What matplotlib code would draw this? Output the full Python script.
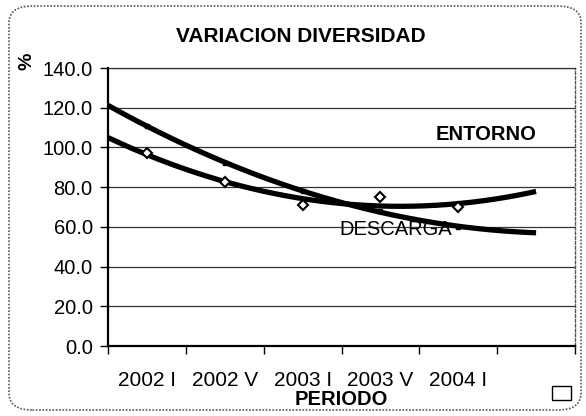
import numpy as np
import matplotlib
matplotlib.use("Agg")
import matplotlib.pyplot as plt
from matplotlib.patches import FancyBboxPatch, Rectangle

plt.rcParams['font.family'] = ['Liberation Sans', 'DejaVu Sans']

categories = ["2002 I", "2002 V", "2003 I", "2003 V", "2004 I", ""]
entorno = [97.0, 82.6, 71.0, 75.0, 70.0]
descarga = [111.0, 92.0, 78.0, 68.0, 60.0]
yticks = [0, 20, 40, 60, 80, 100, 120, 140]

fig = plt.figure(figsize=(5.86, 4.16), dpi=100)
ax = fig.add_axes([108/586, 1-346/416, (575-108)/586, (346-68)/416])

xs = np.arange(1, len(entorno) + 1)
xfit = np.linspace(0.5, 6.0, 300)
for vals in (entorno, descarga):
    coef = np.polyfit(xs, vals, 2)
    ax.plot(xfit - 1, np.polyval(coef, xfit), color='black', lw=3.8,
            solid_capstyle='butt', zorder=3)

ax.plot(xs - 1, descarga, linestyle='none', marker='s', ms=3.5,
        color='black', zorder=4)
ax.plot(xs - 1, entorno, linestyle='none', marker='D', ms=5,
        mfc='white', mec='black', mew=1.5, zorder=5)

ax.set_xlim(-0.5, len(categories) - 0.5)
ax.set_ylim(0, 140)
ax.set_yticks(yticks)
ax.set_yticklabels([f"{v:.1f}" for v in yticks], fontsize=14.5)
ax.grid(axis='y', color='#333333', lw=0.9)
ax.set_axisbelow(True)

ax.set_xticks(np.arange(len(categories)))
ax.set_xticklabels(categories, fontsize=15)
ax.tick_params(axis='x', length=0, pad=18)
ax.set_xticks(np.arange(-0.5, len(categories)), minor=True)
ax.tick_params(axis='x', which='minor', length=6, width=1, direction='out')
ax.tick_params(axis='y', length=6, width=1, direction='out', pad=5)

for s in ('left', 'bottom'):
    ax.spines[s].set_linewidth(1.6)
ax.spines['top'].set_linewidth(0.9)
ax.spines['top'].set_color('#333333')
ax.spines['right'].set_linestyle((0, (2, 1.5)))
ax.spines['right'].set_color('#555555')
ax.spines['right'].set_linewidth(1)

ax.set_xlabel("PERIODO", fontsize=14.5, fontweight='bold', labelpad=0)

fig.text(301/586, 1-37/416, "VARIACION DIVERSIDAD", ha='center', va='center',
         fontsize=15, fontweight='bold')
fig.text(27/586, 1-61/416, "%", rotation=90, ha='center', va='center',
         fontsize=14, fontweight='bold')
fig.text(486/586, 1-134/416, "ENTORNO", ha='center', va='center',
         fontsize=14.5, fontweight='bold')
fig.text(396/586, 1-229/416, "DESCARGA", ha='center', va='center',
         fontsize=14.5)

border = FancyBboxPatch((9/586, 6/416), (581-9)/586, (410-6)/416,
                        boxstyle="round,pad=0,rounding_size=0.04",
                        transform=fig.transFigure, fill=False,
                        edgecolor='#555555', lw=1.2, linestyle=(0, (1, 1)))
fig.patches.append(border)
fig.patches.append(Rectangle((552/586, 1-400/416), 19/586, 14/416,
                             transform=fig.transFigure, fill=False,
                             edgecolor='black', lw=1))

fig.savefig("out.png", dpi=100)
